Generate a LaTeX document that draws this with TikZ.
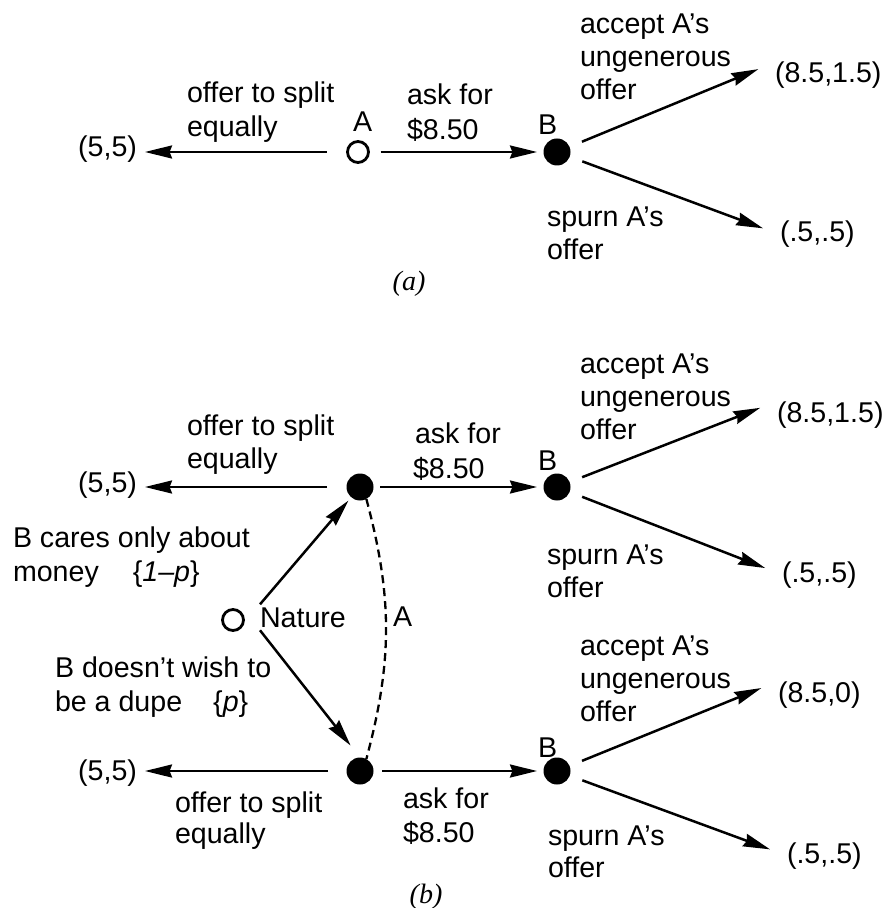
\documentclass[tikz,border=0pt]{standalone}
\usepackage{fontspec}
\setmainfont{Liberation Sans}
\newfontfamily\panelfont{Liberation Serif}
\usetikzlibrary{arrows.meta}

\begin{document}
\begin{tikzpicture}[x=0.5pt,y=-0.5pt,
  every node/.style={inner sep=0pt, outer sep=0pt},
  txt/.style={anchor=base west, font=\fontsize{14.3pt}{17pt}\selectfont},
  txtr/.style={txt, anchor=base east},
  panel/.style={anchor=base, font=\panelfont\itshape\fontsize{14pt}{16pt}\selectfont},
  opendot/.style={circle, draw, line width=1.4pt, minimum size=10.5pt},
  fulldot/.style={circle, fill, minimum size=13.5pt},
  arr/.style={line width=1.25pt, -{Stealth[length=13.5pt,width=6.5pt,inset=1.2pt]}},
  infoset/.style={line width=1.15pt, dash pattern=on 4pt off 2.5pt}]

\useasboundingbox (0,0) rectangle (882,908);

% ---------- panel (a): A moves, then B responds ----------
\node[opendot] (A0) at (358,152) {};
\node[fulldot] (Ba) at (557,152) {};
\node[txt] (A0lab) at (353,132) {A};
\node[txt] (Balab) at (538,135) {B};

\node[txtr] (p55a) at (137,157) {(5,5)};
\node[txt] (oa1) at (187,103) {offer to split};
\node[txt] (oa2) at (187,137) {equally};
\node[txt] (aa1) at (407,105) {ask for};
\node[txt] (aa2) at (407,140) {\$8.50};

\node[txt] (acca1) at (580,34) {accept A's};
\node[txt] (acca2) at (580,67) {ungenerous};
\node[txt] (acca3) at (580,100) {offer};
\node[txt] (pa1) at (775,83) {(8.5,1.5)};
\node[txt] (spa1) at (547,227) {spurn A's};
\node[txt] (spa2) at (547,260) {offer};
\node[txt] (pa2) at (780,242) {(.5,.5)};

\draw[arr, shorten <=10.5pt, shorten >=4pt] (A0) -- (A0 -| p55a.east);
\draw[arr, shorten <=6pt, shorten >=3.25pt] (A0) -- (Ba);
\draw[arr, shorten <=6.75pt, shorten >=9pt] (Ba) -- (pa1.north west);
\draw[arr, shorten <=6.75pt, shorten >=9pt] (Ba) -- (pa2.west);

\node[panel] (capa) at (409,291) {(a)};

% ---------- panel (b): Nature picks B's type ----------
\node[opendot] (Nat) at (233,620) {};
\node[txt, inner ysep=1.5pt] (NatLab) at (260,627) {Nature};

\node[txt] (ty1) at (13,547) {B cares only about};
\node[txt] (ty2) at (13,581) {money\hspace{17pt}\{\textit{1–p}\}};
\node[txt] (ty3) at (55,677) {B doesn't wish to};
\node[txt] (ty4) at (55,711) {be a dupe\hspace{15.5pt}\{\textit{p}\}};

\node[fulldot] (A1) at (360,487) {};
\node[fulldot] (B1) at (557,487) {};
\node[fulldot] (A2) at (360,771) {};
\node[fulldot] (B2) at (557,771) {};

\draw[arr, shorten >=2.2pt] (NatLab.north west) -- (A1);
\draw[arr, shorten >=7.6pt] (NatLab.south west) -- (A2.north);
\draw[infoset] (A1.-62) to[bend left=15] (A2.62);
\node[txt] (infolab) at (393,626) {A};

% upper decision node
\node[txt] (B1lab) at (538,470) {B};
\node[txtr] (p55b) at (137,492) {(5,5)};
\node[txt] (ob1) at (187,435) {offer to split};
\node[txt] (ob2) at (187,468) {equally};
\node[txt] (ab1) at (415,443) {ask for};
\node[txt] (ab2) at (413,478) {\$8.50};

\node[txt] (accb1) at (580,373) {accept A's};
\node[txt] (accb2) at (580,406) {ungenerous};
\node[txt] (accb3) at (580,439) {offer};
\node[txt] (pb1) at (777,422) {(8.5,1.5)};
\node[txt] (spb1) at (547,564) {spurn A's};
\node[txt] (spb2) at (547,597) {offer};
\node[txt] (pb2) at (782,582) {(.5,.5)};

\draw[arr, shorten <=9.75pt, shorten >=4pt] (A1) -- (A1 -| p55b.east);
\draw[arr, shorten <=3.25pt, shorten >=3.25pt] (A1) -- (B1);
\draw[arr, shorten <=6.75pt, shorten >=9pt] (B1) -- (pb1.north west);
\draw[arr, shorten <=6.75pt, shorten >=9pt] (B1) -- (pb2.west);

% lower decision node
\node[txt] (B2lab) at (538,757) {B};
\node[txtr] (p55c) at (137,780) {(5,5)};
\node[txt] (oc1) at (175,812) {offer to split};
\node[txt] (oc2) at (175,843) {equally};
\node[txt] (ac1) at (403,808) {ask for};
\node[txt] (ac2) at (403,842) {\$8.50};

\node[txt] (accc1) at (580,655) {accept A's};
\node[txt] (accc2) at (580,688) {ungenerous};
\node[txt] (accc3) at (580,721) {offer};
\node[txt] (pc1) at (778,702) {(8.5,0)};
\node[txt] (spc1) at (548,845) {spurn A's};
\node[txt] (spc2) at (548,877) {offer};
\node[txt] (pc2) at (787,863) {(.5,.5)};

\draw[arr, shorten <=9.25pt, shorten >=4pt] (A2) -- (A2 -| p55c.east);
\draw[arr, shorten <=4.25pt, shorten >=3.25pt] (A2) -- (B2);
\draw[arr, shorten <=6.75pt, shorten >=9pt] (B2) -- (pc1.north west);
\draw[arr, shorten <=6.75pt, shorten >=9pt] (B2) -- (pc2.west);

\node[panel] (capb) at (426,903) {(b)};
\end{tikzpicture}
\end{document}
